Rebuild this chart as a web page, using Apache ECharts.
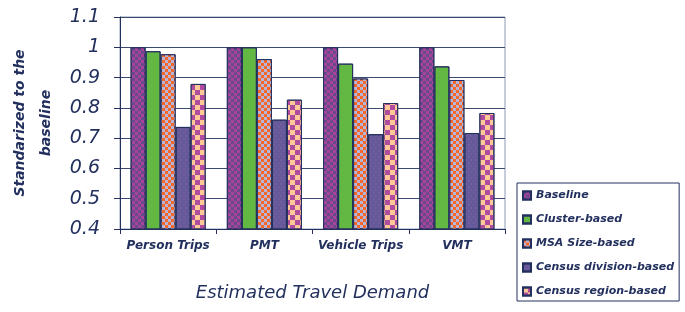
<!DOCTYPE html>
<html>
<head>
<meta charset="utf-8">
<script src="https://cdn.jsdelivr.net/npm/echarts@6/dist/echarts.min.js"></script>
<style>
  html, body { margin: 0; padding: 0; background: #fff; }
  #main { width: 685px; height: 312px; }
</style>
</head>
<body>
<div id="main"></div>
<script>
var categories = ['Person Trips', 'PMT', 'Vehicle Trips', 'VMT'];
var seriesNames = ['Baseline', 'Cluster-based', 'MSA Size-based', 'Census division-based', 'Census region-based'];
var baseline = [1.0, 1.0, 1.0, 1.0];
var cluster = [0.987, 1.0, 0.946, 0.937];
var msaSize = [0.977, 0.961, 0.897, 0.892];
var censusDivision = [0.737, 0.761, 0.713, 0.717];
var censusRegion = [0.879, 0.827, 0.816, 0.783];
var yTicks = [0.4, 0.5, 0.6, 0.7, 0.8, 0.9, 1, 1.1];

var navy = '#23305e';
var font = 'DejaVu Sans';

// fill colours + decal patterns for each series
var styles = [
  { color: '#6a4a8c', decal: { symbol: 'rect', symbolSize: 1, rotation: 0, color: '#a8439a', dashArrayX: [[3, 3], [0, 3, 3, 0]], dashArrayY: [3, 0] } },
  { color: '#63b843', decal: { symbol: 'circle', symbolSize: 0.3, rotation: 0, color: '#4c8a3a', dashArrayX: [1, 10], dashArrayY: [1, 10] } },
  { color: '#f7672a', decal: { symbol: 'rect', symbolSize: 1, rotation: 0, color: '#b9b5d6', dashArrayX: [[3, 3], [0, 3, 3, 0]], dashArrayY: [3, 0] } },
  { color: '#66599a', decal: { symbol: 'rect', symbolSize: 0.6, rotation: 0, color: '#8a6aa8', dashArrayX: [[2, 3], [0, 3, 2, 0]], dashArrayY: [2, 1] } },
  { color: '#fcc997', decal: { symbol: 'rect', symbolSize: 1, rotation: 0, color: '#b04b9f', dashArrayX: [[5, 5], [0, 5, 5, 0]], dashArrayY: [5, 0] } }
];
var values = [baseline, cluster, msaSize, censusDivision, censusRegion];

var series = seriesNames.map(function (name, i) {
  return {
    name: name,
    type: 'bar',
    data: values[i],
    barGap: '0%',
    barCategoryGap: '22%',
    itemStyle: {
      color: styles[i].color,
      decal: styles[i].decal,
      borderColor: navy,
      borderWidth: 1
    }
  };
});

var chart = echarts.init(document.getElementById('main'));
chart.setOption({
  animation: false,
  aria: { enabled: true, decal: { show: true } },
  grid: { left: 120, right: 180, top: 17, bottom: 83, outerBoundsMode: 'none', containLabel: false, show: true, borderColor: '#8e9bb5', borderWidth: 1 },
  legend: {
    orient: 'vertical',
    left: 517,
    top: 183,
    padding: [7, 5, 4, 5],
    borderColor: navy,
    borderWidth: 1,
    itemWidth: 8,
    itemHeight: 8,
    itemGap: 13,
    icon: 'rect',
    textStyle: { color: navy, fontFamily: font, fontStyle: 'italic', fontWeight: 'bold', fontSize: 11 },
    data: seriesNames
  },
  xAxis: {
    type: 'category',
    data: categories,
    name: 'Estimated Travel Demand',
    nameLocation: 'middle',
    nameGap: 55,
    nameTextStyle: { color: navy, fontFamily: font, fontStyle: 'italic', fontSize: 18 },
    axisLine: { lineStyle: { color: navy, width: 1 } },
    axisTick: { show: true, length: 5, lineStyle: { color: navy } },
    axisLabel: { interval: 0, color: navy, fontFamily: font, fontStyle: 'italic', fontWeight: 'bold', fontSize: 12, margin: 11 }
  },
  yAxis: {
    type: 'value',
    min: yTicks[0],
    max: yTicks[yTicks.length - 1],
    interval: 0.1,
    name: 'Standarized to the\nbaseline',
    nameLocation: 'middle',
    nameGap: 61,
    nameTextStyle: { color: navy, fontFamily: font, fontStyle: 'italic', fontWeight: 'bold', fontSize: 14, lineHeight: 26 },
    axisLine: { show: true, lineStyle: { color: navy, width: 1 } },
    axisTick: { show: true, length: 6, lineStyle: { color: navy } },
    splitLine: { lineStyle: { color: '#3a4a70', width: 1 } },
    axisLabel: {
      color: navy, fontFamily: font, fontStyle: 'italic', fontSize: 19, margin: 20,
      formatter: function (v) { return String(+v.toFixed(1)); }
    }
  },
  series: series
});
</script>
</body>
</html>
